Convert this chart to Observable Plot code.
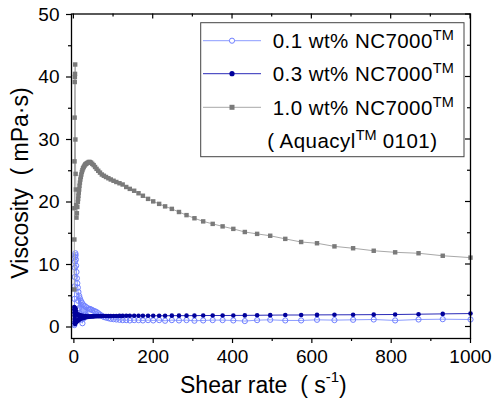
<!DOCTYPE html>
<html>
<head>
<meta charset="utf-8">
<script src="https://cdn.jsdelivr.net/npm/d3@7"></script>
<script src="https://cdn.jsdelivr.net/npm/@observablehq/plot@0.6"></script>
<style>
  html, body { margin: 0; padding: 0; background: #fff; }
  svg text { white-space: pre; }
</style>
</head>
<body>
<div id="chart"></div>
<script>
// Shear rate grid (s^-1)
const shearRate = [1.0,1.2,1.4,1.6,1.9,2.2,2.5,2.9,3.3,3.8,4.4,5.0,5.7,6.6,7.6,8.7,
  10.0,10.8,11.5,12.4,13.3,14.2,15.2,16.3,17.5,18.8,20.1,21.6,23.1,24.8,26.6,28.5,30.6,32.8,35.1,37.7,
  40.4,43.3,46.4,49.8,53.4,57.2,61.4,65.8,70.5,75.6,81,87,93,100,
  107,115,123,132,141,152,163,174,187,200,215,230,247,265,284,304,326,350,375,402,
  431,462,495,533,573,613,657,704,756,810,869,930,1000];

// 0.1 wt% NC7000 viscosity (mPa·s)
const visc01 = [0.5,0.3,2.5,4.5,6.5,8.0,9.5,10.5,11.2,11.8,11.5,10.8,9.8,8.8,7.8,7.0,
  6.3,4.2,5.6,3.0,5.0,2.2,4.6,1.6,4.2,1.2,3.9,0.6,3.6,1.4,3.4,2.0,3.2,1.8,3.0,2.8,
  2.9,2.8,2.7,2.6,2.5,2.4,2.2,2.0,1.8,1.6,1.5,1.4,1.3,1.25,
  1.2,1.15,1.1,1.1,1.05,1.1,1.1,1.05,1.1,1.05,1.1,1.0,1.1,1.05,1.1,1.0,1.05,1.1,1.1,1.05,
  0.95,1.1,1.15,1.05,1.05,1.15,1.1,1.15,1.2,1.05,1.2,1.25,1.2];

// 0.3 wt% NC7000 viscosity (mPa·s)
const visc03 = [3.2,2.8,2.3,1.8,1.3,0.9,0.6,0.5,0.6,0.7,3.0,2.6,0.8,2.2,0.9,2.0,
  1.0,2.0,1.1,1.9,1.2,1.9,1.3,1.85,1.35,1.8,1.4,1.8,1.45,1.75,1.5,1.75,1.55,1.7,1.6,1.7,
  1.65,1.7,1.7,1.7,1.72,1.72,1.74,1.74,1.75,1.75,1.75,1.76,1.76,1.76,
  1.77,1.78,1.78,1.79,1.8,1.8,1.8,1.8,1.8,1.8,1.8,1.8,1.82,1.82,1.82,1.82,1.84,1.84,1.84,1.85,
  1.86,1.88,1.9,1.92,1.92,1.94,1.95,1.96,1.98,2.0,2.05,2.1,2.15];

// 1.0 wt% NC7000 (Aquacyl 0101) viscosity (mPa·s)
const visc10 = [6.0,14.0,19.0,26.5,33.5,39.2,40.0,40.5,42.0,30.0,24.5,22.0,19.5,17.5,18.2,19.2,
  20.0,20.5,21.0,21.5,22.0,22.6,23.1,23.6,24.0,24.4,24.8,25.1,25.4,25.6,25.8,26.0,26.1,26.2,26.3,26.4,
  26.4,26.3,26.1,25.9,25.6,25.3,25.0,24.7,24.4,24.2,24.0,23.8,23.6,23.4,
  23.2,23.0,22.8,22.4,22.1,21.8,21.4,21.0,20.5,20.1,19.7,19.3,18.9,18.4,17.9,17.4,16.9,16.5,16.1,15.7,
  15.2,14.9,14.6,14.1,13.6,13.4,12.9,12.6,12.2,11.95,11.8,11.4,11.1];

const seriesNames = ["0.1 wt% NC7000", "0.3 wt% NC7000", "1.0 wt% NC7000"];
const xMajor = [0, 200, 400, 600, 800, 1000];
const xMinor = [100, 300, 500, 700, 900];
const yMajor = [0, 10, 20, 30, 40, 50];
const yMinor = [5, 15, 25, 35, 45];

const cLight = "#7080ff", cLightLine = "#8c9cff";
const cDark = "#00009c", cDarkLine = "#2a2ab8";
const cGray = "#7a7a7a", cGrayLine = "#a8a8a8";

const toRows = (vals) => shearRate.map((x, i) => ({x, y: vals[i]}));
const s01 = toRows(visc01), s03 = toRows(visc03), s10 = toRows(visc10);

const W = 492, H = 401, mL = 71, mR = 22, mT = 13.5, mB = 63;

const chart = Plot.plot({
  width: W, height: H,
  marginLeft: mL, marginRight: mR, marginTop: mT, marginBottom: mB,
  style: {fontFamily: "'Liberation Sans', Arial, sans-serif", fontSize: "19px", background: "#fff", color: "#000"},
  x: {domain: [-6, 1000]},
  y: {domain: [-1.84, 50.08]},
  marks: [
    Plot.line(s01, {x: "x", y: "y", stroke: cLightLine, strokeWidth: 1}),
    Plot.dot(s01, {x: "x", y: "y", r: 2.6, stroke: cLight, fill: "none", strokeWidth: 1}),
    Plot.line(s03, {x: "x", y: "y", stroke: cDarkLine, strokeWidth: 1}),
    Plot.dot(s03, {x: "x", y: "y", r: 2.3, fill: cDark, stroke: "none"}),
    Plot.line(s10, {x: "x", y: "y", stroke: cGrayLine, strokeWidth: 1}),
    Plot.dot(s10, {x: "x", y: "y", r: 2.5, symbol: "square", fill: cGray, stroke: "none"}),
    Plot.axisX({ticks: xMajor, tickSize: 5, tickPadding: 6, tickFormat: d => String(d), label: null, strokeWidth: 1.2}),
    Plot.axisX({ticks: xMinor, tickSize: 3, tickFormat: () => "", label: null, strokeWidth: 1.2}),
    Plot.axisY({ticks: yMajor, tickSize: 5, tickPadding: 7, tickFormat: d => String(d), label: null, strokeWidth: 1.2}),
    Plot.axisY({ticks: yMinor, tickSize: 3, tickFormat: () => "", label: null, strokeWidth: 1.2}),
    Plot.frame({stroke: "#000", strokeWidth: 1.3})
  ]
});

const svg = d3.select(chart);
const sx = chart.scale("x"), sy = chart.scale("y");
const g = svg.append("g").attr("stroke", "#000").attr("stroke-width", 1.2);
xMajor.concat(xMinor).forEach(t => {
  const len = xMajor.includes(t) ? 5 : 3;
  const px = sx.apply(t);
  g.append("line").attr("x1", px).attr("x2", px).attr("y1", mT).attr("y2", mT + len);
});
yMajor.concat(yMinor).forEach(t => {
  const len = yMajor.includes(t) ? 5 : 3;
  const py = sy.apply(t);
  g.append("line").attr("x1", W - mR).attr("x2", W - mR - len).attr("y1", py).attr("y2", py);
});

// Axis titles
const xt = svg.append("text").attr("x", 180).attr("y", 393.3).attr("text-anchor", "start")
  .attr("font-size", 23).attr("fill", "#000");
xt.append("tspan").text("Shear rate  ( s");
xt.append("tspan").attr("font-size", 15).attr("dy", -11).text("-1");
xt.append("tspan").attr("dy", 11).text(")");

svg.append("text").attr("transform", "translate(28.3,183) rotate(-90)")
  .attr("text-anchor", "middle").attr("font-size", 23).attr("fill", "#000")
  .text("Viscosity  ( mPa·s)");

// Legend
const lg = svg.append("g").attr("text-anchor", "start");
lg.append("rect").attr("x", 200.7).attr("y", 22.7).attr("width", 263.3).attr("height", 134)
  .attr("fill", "#fff").attr("stroke", "#444").attr("stroke-width", 1);
const entries = [
  {name: seriesNames[0], y: 40.7, line: cLightLine, kind: "open"},
  {name: seriesNames[1], y: 73.7, line: cDarkLine, kind: "dot"},
  {name: seriesNames[2], y: 107.3, line: cGrayLine, kind: "square"}
];
entries.forEach(e => {
  lg.append("line").attr("x1", 203).attr("x2", 261).attr("y1", e.y).attr("y2", e.y)
    .attr("stroke", e.line).attr("stroke-width", 1);
  if (e.kind === "open") lg.append("circle").attr("cx", 232).attr("cy", e.y).attr("r", 2.6)
    .attr("fill", "#fff").attr("stroke", cLight);
  else if (e.kind === "dot") lg.append("circle").attr("cx", 232).attr("cy", e.y).attr("r", 2.6)
    .attr("fill", cDark);
  else lg.append("rect").attr("x", 229.5).attr("y", e.y - 2.5).attr("width", 5).attr("height", 5)
    .attr("fill", cGray);
  const t = lg.append("text").attr("x", 272.7).attr("y", e.y + 7.6).attr("text-anchor", "start")
    .attr("font-size", 20.5).attr("letter-spacing", 0.45).attr("fill", "#000");
  t.append("tspan").text(e.name);
  t.append("tspan").attr("font-size", 14.5).attr("letter-spacing", 0).attr("dy", -8).text("TM");
});
const at = lg.append("text").attr("x", 267.3).attr("y", 148.3).attr("text-anchor", "start")
  .attr("font-size", 20.5).attr("letter-spacing", 0.45).attr("fill", "#000");
at.append("tspan").text("( Aquacyl");
at.append("tspan").attr("font-size", 14.5).attr("letter-spacing", 0).attr("dy", -8).text("TM");
at.append("tspan").attr("dy", 8).text(" 0101)");

document.getElementById("chart").appendChild(chart);
</script>
</body>
</html>
